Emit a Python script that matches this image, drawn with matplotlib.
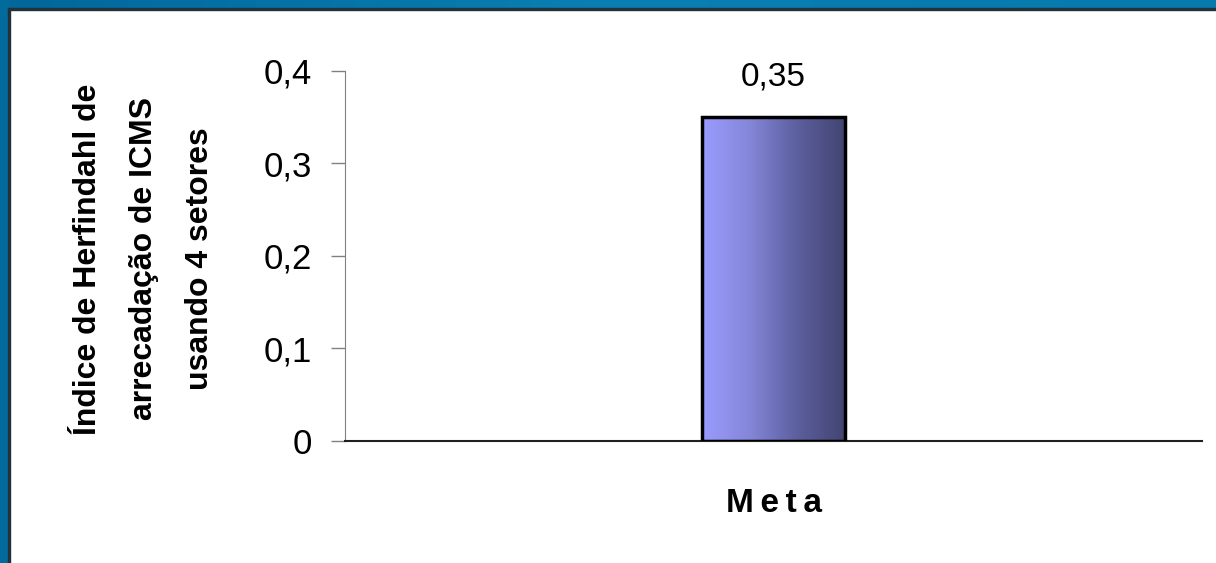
import numpy as np
import matplotlib.pyplot as plt
from matplotlib.colors import LinearSegmentedColormap
from matplotlib.patches import Rectangle

categories = ['Meta']
values = [0.35]
yticks = [0, 0.1, 0.2, 0.3, 0.4]
ytick_labels = ['0', '0,1', '0,2', '0,3', '0,4']
value_labels = ['0,35']
ylabel = 'Índice de Herfindahl de\narrecadação de ICMS\nusando 4 setores'

plt.rcParams['font.family'] = ['Liberation Sans', 'DejaVu Sans']

W, H = 1216, 563
fig = plt.figure(figsize=(W / 100, H / 100), dpi=100)
fig.patch.set_facecolor('white')

# blue frame (top and left)
grad = np.linspace(0, 1, 256).reshape(1, -1)
band = fig.add_axes([0, 1 - 10 / H, 1, 10 / H])
band.imshow(grad, aspect='auto', extent=[0, 1, 0, 1],
            cmap=LinearSegmentedColormap.from_list('b', ['#02679b', '#0a7fb3', '#0679ad']))
band.axis('off')
fig.patches.append(Rectangle((0, 0), 8 / W, 1, transform=fig.transFigure,
                             color='#036a9c', zorder=0))
fig.patches.append(Rectangle((8 / W, 0), 2 / W, 1 - 9 / H, transform=fig.transFigure,
                             color='#20323a', zorder=1))
fig.patches.append(Rectangle((8 / W, 1 - 10 / H), 1 - 8 / W, 2 / H, transform=fig.transFigure,
                             color='#20323a', zorder=1))

ax = fig.add_axes([345 / W, 1 - 441 / H, (1202 - 345) / W, (441 - 70.5) / H])
ax.set_xlim(-0.5, 0.5)
ax.set_ylim(0, 0.4)

x = np.arange(len(categories))
bars = ax.bar(x, values, width=0.168, color='none', edgecolor='black', linewidth=2.5, zorder=3)
cmap = LinearSegmentedColormap.from_list('g', ['#9a9cff', '#8486d8', '#5c5e9e', '#424470'])
for b in bars:
    x0, y0 = b.get_x(), b.get_y()
    img = ax.imshow(grad, aspect='auto', cmap=cmap,
                    extent=[x0, x0 + b.get_width(), y0, y0 + b.get_height()], zorder=2)
    img.set_clip_path(b)

for b, lab in zip(bars, value_labels):
    ax.text(b.get_x() + b.get_width() / 2, b.get_height() + 0.026, lab,
            ha='center', va='bottom', fontsize=24)

ax.set_yticks(yticks)
ax.set_yticklabels(ytick_labels, fontsize=25)
ax.set_xticks(x)
ax.set_xticklabels(['\u2009'.join(c) for c in categories], fontsize=24, fontweight='bold')
ax.tick_params(axis='x', length=0, pad=34)
ax.tick_params(axis='y', length=10, width=1, color='#808080', pad=14)

for s in ['top', 'right']:
    ax.spines[s].set_visible(False)
ax.spines['left'].set_color('#808080')
ax.spines['bottom'].set_color('#202020')
ax.spines['bottom'].set_linewidth(1.5)

fig.text(144 / W, 1 - 259 / H, ylabel, rotation=90, ha='center', va='center',
         multialignment='center', fontsize=23, fontweight='bold', linespacing=2.15)

fig.savefig('out.png', dpi=100)
